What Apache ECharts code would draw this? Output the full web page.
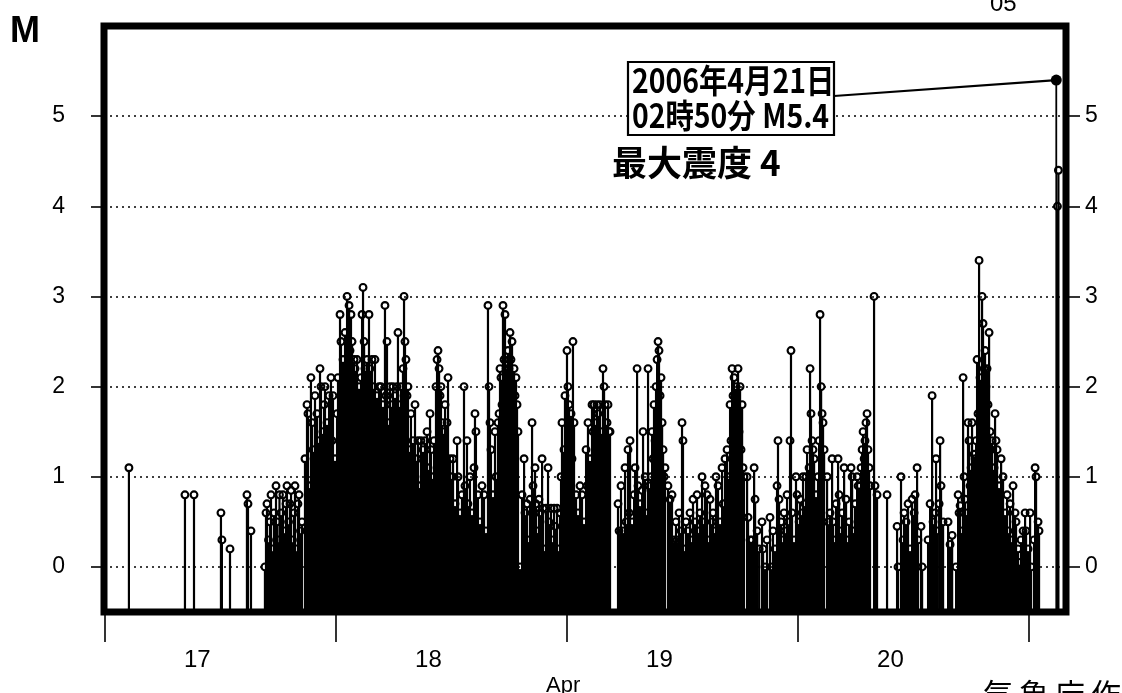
<!DOCTYPE html>
<html><head><meta charset="utf-8">
<script src="https://cdn.jsdelivr.net/npm/echarts@6/dist/echarts.min.js"></script>
<style>html,body{margin:0;padding:0;background:#fff}#c{width:1122px;height:693px}</style>
</head><body><div id="c"></div>
<script>
// Magnitude tick values and day ticks (hours since 2006-04-17 00:00 JST)
const yTicks = [0, 1, 2, 3, 4, 5];
const dayTickHours = [0, 24, 48, 72, 96];
const dayLabelHours = [9.6, 33.6, 57.6, 81.6];
const dayLabels = ['17', '18', '19', '20'];

// Events: [hours since Apr 17 00:00, magnitude]
const apr17Events = [
[2.49,1.1],[8.31,0.8],[9.25,0.8],[12.05,0.6],[12.15,0.3],[12.99,0.2],[14.75,0.8],[14.86,0.7],[15.17,0.4],
[16.62,0.0],[16.73,0.6],[16.83,0.7],[16.99,0.3],[17.14,0.5],[17.25,0.8],[17.40,0.2],[17.56,0.6],[17.77,0.9],[17.87,0.5],[18.03,0.3],[18.13,0.8],[18.29,0.6],[18.39,0.1],[18.49,0.8],[18.65,0.4],[18.81,0.7],[18.91,0.9],[19.07,0.5],[19.22,0.7],[19.33,0.85],[19.48,0.3],[19.64,0.6],[19.74,0.9],[19.90,0.2],[20.05,0.7],[20.16,0.8],[20.31,0.4],[20.47,0.5],
[20.78,1.2],[20.99,1.8],[21.09,1.7],[21.20,0.9],[21.40,2.1],[21.51,1.6],[21.61,1.3],[21.82,1.9],[21.92,1.0],[22.03,1.7],[22.24,1.4],[22.34,2.2],[22.44,2.0],[22.65,1.5],[22.76,1.8],[22.86,2.0],[23.07,1.6],[23.17,1.3],[23.28,1.9],[23.48,2.1],[23.59,1.4],[23.69,1.9],[23.90,1.2]
];
const apr18Events = [
[24.11,1.7],[24.21,2.1],[24.42,2.8],[24.52,2.5],[24.63,1.9],[24.73,2.3],[24.94,2.6],[25.04,2.0],[25.15,3.0],[25.25,2.2],[25.36,2.9],[25.46,2.4],[25.56,2.8],[25.67,2.5],[25.77,1.8],[25.88,2.3],[25.98,2.2],[26.19,2.3],[26.29,1.6],[26.40,2.0],
[26.60,2.1],[26.71,2.8],[26.81,3.1],[26.92,2.5],[27.01,2.2],[27.11,1.9],[27.22,2.3],[27.43,2.8],[27.53,2.2],[27.63,1.8],[27.74,2.3],[27.84,2.0],[28.05,2.3],[28.15,1.7],[28.26,1.9],[28.47,2.0],[28.57,1.5],[28.67,2.0],[28.88,1.8],[28.99,1.4],
[29.09,2.9],[29.19,1.9],[29.30,2.5],[29.40,1.6],[29.61,2.0],[29.71,1.8],[29.92,2.0],[30.02,1.5],[30.13,1.9],[30.34,2.0],[30.44,2.6],[30.54,1.8],[30.75,2.0],[30.86,1.4],[30.96,2.2],[31.07,3.0],[31.17,2.5],[31.27,2.3],[31.38,1.9],[31.48,2.0],
[31.69,1.3],[31.79,1.7],[32.00,1.4],[32.11,1.0],[32.21,1.8],[32.42,1.2],[32.52,1.4],[32.73,0.9],[32.83,1.4],[33.04,1.3],[33.15,1.0],[33.25,1.4],[33.46,1.5],[33.56,1.1],[33.77,1.7],[33.87,1.3],[34.08,1.0],[34.19,1.4],
[34.39,2.0],[34.50,2.3],[34.60,2.4],[34.71,2.2],[34.81,1.9],[34.91,2.0],[35.02,1.6],[35.12,1.3],[35.23,1.5],[35.33,1.8],[35.43,1.2],[35.54,1.6],[35.64,2.1],[35.85,1.2],
[36.06,1.0],[36.16,1.2],[36.37,0.7],[36.58,1.4],[36.68,1.0],[36.89,0.6],[37.09,0.8],[37.30,2.0],[37.40,0.9],[37.61,1.4],[37.71,0.7],[37.92,1.0],[38.13,0.6],[38.34,1.1],[38.44,1.7],[38.54,1.5],[38.75,0.8],[38.96,0.5],[39.17,0.9],[39.38,0.8],[39.58,0.4],[39.79,2.9],[39.90,2.0],[40.00,1.6],[40.10,1.3],[40.31,0.8],[40.52,1.5],[40.62,1.0],[40.83,1.6],[40.94,1.7],
[41.04,2.2],[41.14,2.1],[41.25,1.8],[41.35,2.9],[41.46,2.3],[41.56,2.8],[41.66,2.2],[41.77,2.0],[41.87,2.4],[41.98,2.2],[42.08,2.6],[42.18,2.3],[42.29,2.5],[42.39,2.0],[42.50,2.2],[42.60,1.9],[42.70,2.1],[42.81,1.8],[42.91,1.5],
[43.12,0.0],[43.33,0.8],[43.54,1.2],[43.64,0.6],[43.85,0.7],[44.06,0.3],[44.16,0.75],[44.37,1.6],[44.47,0.9],[44.68,1.1],[44.78,0.7],[44.99,0.4],[45.09,0.75],[45.20,0.6],[45.41,1.2],[45.51,0.65],[45.72,0.2],[45.82,0.65],[46.03,1.1],[46.13,0.5],[46.34,0.65],[46.45,0.3],[46.66,0.65],[46.76,0.45],[46.97,0.65],[47.07,0.2],[47.28,0.6],
[47.38,1.0],[47.48,1.6],[47.69,1.3],[47.79,1.9]
];
const apr19Events = [
[48.00,2.4],[48.10,2.0],[48.21,1.8],[48.31,1.5],[48.42,1.7],[48.52,1.2],[48.62,2.5],[48.73,1.6],[48.94,0.8],
[49.14,0.6],[49.35,0.9],[49.56,0.8],[49.77,0.5],[49.98,1.3],[50.08,0.9],[50.18,1.6],[50.39,1.2],[50.60,1.8],[50.70,1.5],[50.81,1.8],[51.02,1.6],[51.12,1.8],[51.22,1.7],[51.43,1.8],[51.53,1.5],[51.74,2.2],[51.85,2.0],[51.95,1.8],[52.16,1.6],[52.26,1.8],[52.37,1.5],[52.47,1.5],
[53.30,0.7],[53.41,0.4],[53.61,0.9],[53.82,0.4],[54.03,1.1],[54.13,0.5],[54.34,1.3],[54.45,0.6],[54.55,1.4],[54.76,0.5],[54.97,0.8],[55.07,1.1],[55.28,2.2],[55.38,0.9],[55.59,0.7],[55.80,0.85],[55.90,1.5],[56.11,1.0],[56.21,0.6],[56.42,2.2],[56.53,0.9],
[56.73,1.0],[56.84,1.5],[56.94,1.2],[57.04,1.8],[57.15,1.4],[57.25,2.0],[57.36,2.3],[57.46,2.5],[57.56,2.4],[57.67,1.9],[57.77,2.1],[57.88,1.6],[57.98,1.3],[58.08,1.0],[58.18,1.1],
[58.49,0.9],[58.70,0.75],[58.91,0.8],[59.12,0.3],[59.32,0.5],[59.43,0.3],[59.64,0.6],[59.85,0.4],[59.95,1.6],[60.05,1.4],[60.26,0.2],[60.36,0.5],[60.57,0.4],[60.78,0.6],[60.88,0.3],[61.09,0.75],[61.30,0.5],[61.51,0.8],[61.72,0.4],[61.82,0.6],[62.03,1.0],[62.24,0.5],[62.34,0.9],[62.55,0.8],[62.76,0.3],[62.86,0.75],[63.07,0.5],[63.17,0.6],[63.38,0.4],[63.48,1.0],[63.69,0.9],[63.90,0.5],[64.11,1.1],[64.21,0.7],[64.42,1.2],[64.63,1.3],
[64.83,1.0],[64.94,1.8],[65.04,1.4],[65.15,2.2],[65.25,1.9],[65.35,2.1],[65.46,1.6],[65.56,2.0],[65.66,1.7],[65.77,2.2],[65.87,1.5],[65.98,2.0],[66.08,1.3],[66.19,1.8],[66.29,1.1],[66.39,1.0],
[66.71,1.0],[66.81,0.55],[67.02,0.3],[67.23,0.3],[67.44,1.1],[67.54,0.75],[67.75,0.4],[67.96,0.2],[68.26,0.5],[68.37,0.2],[68.57,0.0],[68.78,0.3],[69.09,0.55],[69.20,0.0],[69.40,0.4],[69.61,0.2],[69.82,0.9],[69.92,1.4],[70.03,0.75],[70.24,0.5],[70.34,0.3],[70.55,0.6],[70.65,0.4],[70.86,0.8],[70.96,0.5],[71.17,1.4],[71.27,2.4],[71.38,0.6],[71.59,0.3],[71.79,1.0],[71.90,0.8]
];
const apr20Events = [
[72.11,0.5],[72.21,0.75],[72.42,0.6],[72.52,1.0],[72.73,0.7],
[72.83,1.0],[72.94,1.3],[73.15,1.1],[73.25,2.2],[73.35,1.7],[73.46,1.4],[73.56,1.3],[73.67,1.2],[73.87,0.8],[74.08,1.0],[74.19,1.4],[74.29,2.8],[74.40,2.0],[74.50,1.7],[74.60,1.6],[74.71,1.3],
[75.02,1.0],[75.12,0.5],[75.33,0.6],[75.54,1.2],[75.64,0.5],[75.85,0.3],[75.95,0.7],[76.16,1.2],[76.27,0.8],[76.47,0.4],[76.58,0.6],[76.79,1.1],[76.99,0.75],[77.20,0.3],[77.31,0.5],[77.51,1.1],[77.62,1.0],[77.82,0.4],[77.93,0.7],[78.14,1.0],[78.24,0.9],
[78.45,0.9],[78.55,1.1],[78.66,1.3],[78.76,1.5],[78.87,1.2],[78.96,1.4],[79.06,1.6],[79.17,1.7],[79.27,1.3],[79.38,1.1],[79.48,0.9],
[79.90,3.0],[80.00,0.9],[80.21,0.8],[81.25,0.8],[82.29,0.45],[82.39,0.0],[82.70,1.0],[82.91,0.3],[83.02,0.6],[83.23,0.5],[83.43,0.7],[83.64,0.2],[83.85,0.75],[84.06,0.6],[84.16,0.8],[84.37,1.1],[84.47,0.3],[84.78,0.45],[84.89,0.0],
[85.51,0.3],[85.72,0.7],[85.93,1.9],[86.03,0.5],[86.24,0.6],[86.34,1.2],[86.45,0.4],[86.66,0.7],[86.76,1.4],[86.86,0.9],[87.07,0.5],[87.59,0.5],[87.80,0.25],[88.01,0.35],[88.42,0.0],[88.63,0.8],[88.73,0.6],[88.84,0.68],[89.04,0.4],[89.15,2.1],[89.25,1.0],[89.35,0.75],[89.56,0.6],[89.66,1.6],
[89.77,1.4],[89.87,0.9],[89.98,1.1],[90.08,1.6],[90.18,1.0],[90.29,1.25],[90.39,1.2],[90.50,1.4],[90.60,2.3],[90.70,1.7],[90.81,3.4],[90.91,2.1],[91.02,2.0],[91.12,3.0],[91.22,2.7],[91.33,2.2],[91.43,2.4],[91.53,2.0],[91.64,2.2],[91.74,1.8],[91.85,2.6],[91.95,1.5],[92.06,1.3],[92.16,1.4],[92.37,1.1],[92.47,1.7],[92.57,1.4],[92.68,1.3],[92.89,0.9],[93.10,1.2],[93.30,1.0],
[93.51,0.6],[93.72,0.8],[93.82,0.4],[94.03,0.7],[94.13,0.3],[94.34,0.9],[94.55,0.6],[94.65,0.5],[94.86,0.2],[94.96,0.05],[95.17,0.3],[95.38,0.4],[95.59,0.6],[95.69,0.4],[95.90,0.2]
];
const apr21Events = [
[96.11,0.6],[96.21,0.0],[96.52,0.3],[96.63,1.1],[96.73,1.0],[96.94,0.5],[97.04,0.4],[98.95,4.0],[99.05,4.4]
];
// Largest event: 2006-04-21 02:50, M5.4
const mainShock = [98.83, 5.4];

const Y_MIN = -0.5, Y_MAX = 6.0;
const allEvents = [].concat(apr17Events, apr18Events, apr19Events, apr20Events, apr21Events);
const calloutAnchor = [834, 96];
const numFont = 'Liberation Sans';
const cjkFont = '"Noto Sans CJK JP"';

function renderStem(params, api) {
  const t = api.value(0), m = api.value(1);
  const top = api.coord([t, m]);
  const base = api.coord([t, Y_MIN]);
  const r = 3.4;
  return {
    type: 'group',
    children: [
      { type: 'line', shape: { x1: top[0], y1: base[1], x2: top[0], y2: top[1] + r }, style: { stroke: '#000', lineWidth: 2.2 } },
      { type: 'circle', shape: { cx: top[0], cy: top[1], r: r }, style: { fill: 'transparent', stroke: '#000', lineWidth: 2.1 } }
    ]
  };
}
function renderMain(params, api) {
  const p = api.coord([api.value(0), api.value(1)]);
  const b = api.coord([api.value(0), Y_MIN]);
  return {
    type: 'group',
    children: [
      { type: 'line', shape: { x1: p[0], y1: b[1], x2: p[0], y2: p[1] }, style: { stroke: '#000', lineWidth: 1.8 } },
      { type: 'line', shape: { x1: calloutAnchor[0], y1: calloutAnchor[1], x2: p[0], y2: p[1] }, style: { stroke: '#000', lineWidth: 2.2 } },
      { type: 'circle', shape: { cx: p[0], cy: p[1], r: 5.5 }, style: { fill: '#000' } }
    ]
  };
}

const chart = echarts.init(document.getElementById('c'), null, { renderer: 'canvas' });
const yAxisCommon = {
  type: 'value', min: Y_MIN, max: Y_MAX,
  axisLine: { show: false }, splitLine: { show: false },
  axisTick: { show: true, customValues: yTicks, length: 14, lineStyle: { color: '#000', width: 1.6 } }
};
const bottomChars = ['気', '象', '庁', '作', '成'];
chart.setOption({
  animation: false,
  backgroundColor: '#fff',
  grid: { left: 104, right: 56, top: 26, bottom: 81, show: true, borderColor: '#000', borderWidth: 7 },
  xAxis: {
    type: 'value', min: -0.1, max: 99.84,
    axisLine: { show: true, onZero: false, lineStyle: { color: 'rgba(0,0,0,0)', width: 0 } },
    splitLine: { show: false },
    axisTick: { show: true, customValues: dayTickHours, length: 30, lineStyle: { color: '#000', width: 1.6 } },
    axisLabel: { customValues: dayLabelHours, formatter: v => dayLabels[Math.floor(v / 24)], margin: 36, fontSize: 24, color: '#000', fontFamily: numFont }
  },
  yAxis: [
    Object.assign({}, yAxisCommon, { position: 'left', axisLabel: { customValues: yTicks, margin: 39, fontSize: 23, color: '#000', fontFamily: numFont } }),
    Object.assign({}, yAxisCommon, { position: 'right', axisLabel: { customValues: yTicks, margin: 19, fontSize: 23, color: '#000', fontFamily: numFont } })
  ],
  series: [
    {
      type: 'line', data: [], z: 1,
      markLine: {
        silent: true, symbol: 'none', label: { show: false }, animation: false,
        lineStyle: { type: [2, 4], color: '#000', width: 1.5 },
        data: yTicks.map(v => ({ yAxis: v }))
      }
    },
    { type: 'custom', data: allEvents, renderItem: renderStem, z: 2 },
    { type: 'custom', data: [mainShock], renderItem: renderMain, z: 3 }
  ],
  graphic: [
    { type: 'text', left: 10, top: 14, style: { text: 'M', font: 'bold 36px ' + numFont, fill: '#000' } },
    { type: 'text', left: 990, top: -8, style: { text: '05', font: '24px ' + numFont, fill: '#000' } },
    { type: 'rect', z: 20, shape: { x: 628, y: 62, width: 206, height: 73 }, style: { fill: '#fff', stroke: '#000', lineWidth: 2.2 } },
    { type: 'text', z: 21, x: 632, y: 64, scaleX: 0.86, style: { text: '2006年4月21日', font: 'bold 33px ' + cjkFont, fill: '#000', verticalAlign: 'top' } },
    { type: 'text', z: 21, x: 632, y: 99, scaleX: 0.86, style: { text: '02時50分 M5.4', font: 'bold 33px ' + cjkFont, fill: '#000', verticalAlign: 'top' } },
    { type: 'text', z: 21, x: 612, y: 145, style: { text: '最大震度 4', font: 'bold 35px ' + cjkFont, fill: '#000', verticalAlign: 'top' } },
    { type: 'text', x: 546, y: 675, style: { text: 'Apr', font: '22px ' + numFont, fill: '#000', verticalAlign: 'top' } }
  ].concat(bottomChars.map((ch, i) => ({
    type: 'text', x: 983 + i * 36, y: 679, style: { text: ch, font: '30px ' + cjkFont, fill: '#000', verticalAlign: 'top' }
  })))
});
</script>
</body></html>
